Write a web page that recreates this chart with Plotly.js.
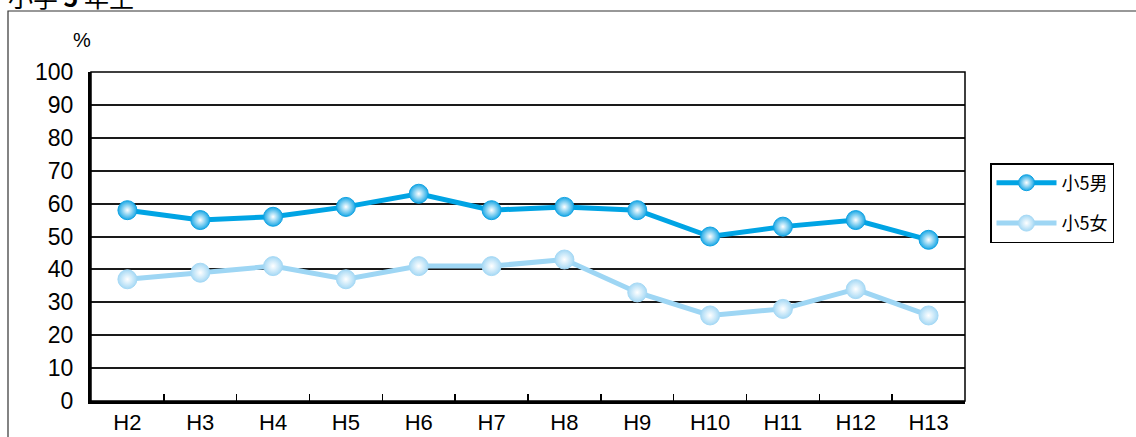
<!DOCTYPE html>
<html>
<head>
<meta charset="utf-8">
<script src="https://cdn.plot.ly/plotly-3.0.1.min.js"></script>
<style>html,body{margin:0;padding:0;background:#fff;}#chart{width:1136px;height:437px;}</style>
</head>
<body>
<div id="chart"></div>
<script>
var categories = ['H2','H3','H4','H5','H6','H7','H8','H9','H10','H11','H12','H13'];
var boys = [58, 55, 56, 59, 63, 58, 59, 58, 50, 53, 55, 49];
var girls = [37, 39, 41, 37, 41, 41, 43, 33, 26, 28, 34, 26];
var seriesNames = ['小5男', '小5女'];
var yTicks = [0,10,20,30,40,50,60,70,80,90,100];

var W = 1136, H = 437;
var L = 91, R = 965, T = 72, B = 401;
var pw = R - L, ph = B - T;
function px(x){ return (x - L) / pw; }
function py(y){ return (B - y) / ph; }

var font = 'Liberation Sans, Arial, Noto Sans CJK JP, sans-serif';

var traces = [
  {
    x: categories, y: boys, name: seriesNames[0], type: 'scatter', mode: 'lines+markers',
    legendgroup: 'a',
    line: {color: '#00a4e4', width: 5},
    marker: {size: 19, color: '#1aa8e6', line: {color: '#10a2e2', width: 1},
             gradient: {type: 'radial', color: '#ffffff'}}
  },
  {
    x: categories, y: girls, name: seriesNames[1], type: 'scatter', mode: 'lines+markers',
    legendgroup: 'b',
    line: {color: '#9ed6f4', width: 5},
    marker: {size: 19, color: '#a6d9f5', line: {color: '#a6d9f5', width: 1},
             gradient: {type: 'radial', color: '#ffffff'}}
  }
];

var layout = {
  width: W, height: H,
  margin: {l: L, r: W - R, t: T, b: H - B, pad: 0},
  paper_bgcolor: '#fff', plot_bgcolor: '#fff',
  font: {family: font, color: '#000'},
  showlegend: true,
  legend: {
    x: px(990), y: py(163), xanchor: 'left', yanchor: 'top',
    bordercolor: '#000', borderwidth: 1.5, bgcolor: '#fff',
    font: {size: 18, family: 'Noto Sans CJK JP, sans-serif'}, tracegroupgap: 14, traceorder: 'grouped',
    itemwidth: 60
  },
  xaxis: {
    type: 'category', range: [-0.5, 11.5],
    showgrid: false, zeroline: false,
    showline: true, linecolor: '#000', linewidth: 3,
    ticks: 'inside', tickson: 'boundaries', ticklen: 7, tickwidth: 1.5, tickcolor: '#000',
    tickfont: {size: 22, family: font}, fixedrange: true
  },
  yaxis: {
    range: [0, 100], tickvals: yTicks, ticktext: yTicks.map(String),
    showgrid: true, gridcolor: '#1a1a1a', gridwidth: 2,
    zeroline: false, showline: true, linecolor: '#000', linewidth: 3,
    ticks: '', ticklabelstandoff: 10,
    tickfont: {size: 23, family: font}, fixedrange: true
  },
  shapes: [
    {type: 'rect', xref: 'paper', yref: 'paper', x0: 0, x1: 1, y0: 0, y1: 1,
     line: {color: '#000', width: 1.5}},
    {type: 'rect', xref: 'paper', yref: 'paper', x0: px(8), x1: px(1145), y0: py(445), y1: py(11),
     line: {color: '#333', width: 1.2}}
  ],
  annotations: [
    {text: '小学 <b>5</b> 年生', xref: 'paper', yref: 'paper', x: px(6), y: py(-4),
     xanchor: 'left', yanchor: 'middle', showarrow: false,
     font: {size: 25, family: 'Noto Sans CJK JP, sans-serif', color: '#000'}},
    {text: '%', xref: 'paper', yref: 'paper', x: px(82), y: py(40),
     xanchor: 'center', yanchor: 'middle', showarrow: false,
     font: {size: 20, family: font, color: '#000'}}
  ]
};

Plotly.newPlot('chart', traces, layout, {displayModeBar: false, staticPlot: true});
</script>
</body>
</html>
